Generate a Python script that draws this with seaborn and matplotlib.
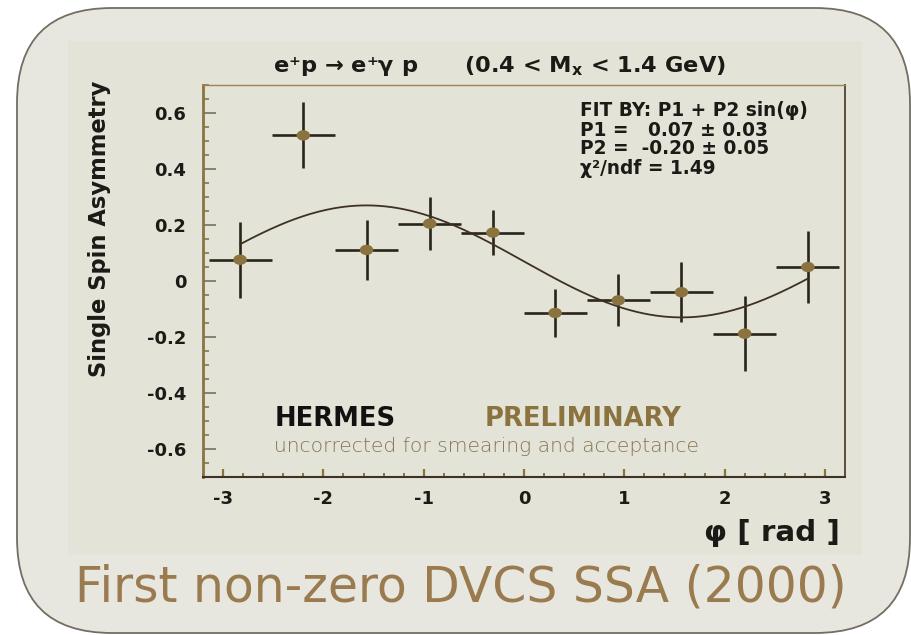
import numpy as np
import pandas as pd
import matplotlib
matplotlib.use("Agg")
import matplotlib.pyplot as plt
import seaborn as sns
from matplotlib.patches import FancyBboxPatch, Rectangle
from matplotlib.path import Path
from matplotlib.transforms import Affine2D
from matplotlib.ticker import FixedLocator, MultipleLocator

# ---- measured asymmetry in ten azimuthal bins ----
phi = [-2.83, -2.20, -1.57, -0.94, -0.31, 0.31, 0.94, 1.57, 2.20, 2.83]
ssa = [0.076, 0.520, 0.111, 0.205, 0.173, -0.114, -0.069, -0.040, -0.188, 0.050]
ssa_err = [0.135, 0.118, 0.107, 0.096, 0.080, 0.085, 0.093, 0.108, 0.133, 0.130]
bin_half_width = 0.314

# ---- fit result: P1 + P2 sin(phi) ----
p1, p1_err = 0.07, 0.03
p2, p2_err = -0.20, 0.05
chi2_ndf = 1.49

x_ticks = [-3, -2, -1, 0, 1, 2, 3]
x_tick_labels = ["-3", "-2", "-1", "0", "1", "2", "3"]
y_ticks = [-0.6, -0.4, -0.2, 0.0, 0.2, 0.4, 0.6]
y_tick_labels = ["-0.6", "-0.4", "-0.2", "0", "0.2", "0.4", "0.6"]

title_text = "e\u207ap \u2192 e\u207a\u03b3 p      (0.4 < $\\mathbf{M_{x}}$ < 1.4 GeV)"
fit_lines = [
    "FIT BY: P1 + P2 sin(\u03c6)",
    f"P1 =   {p1:.2f} \u00b1 {p1_err:.2f}",
    f"P2 =  {p2:.2f} \u00b1 {p2_err:.2f}",
    f"\u03c7\u00b2/ndf = {chi2_ndf:.2f}",
]
caption = "First non-zero DVCS SSA (2000)"

OLIVE = "#8b7340"
INK = "#1c1a16"

sns.set_theme(style="white")
plt.rcParams["font.family"] = ["DejaVu Sans"]
plt.rcParams["mathtext.fontset"] = "dejavusans"

W, H = 911, 635
fig = plt.figure(figsize=(W / 100, H / 100), dpi=100, facecolor="white")
px = Affine2D().scale(1 / W, 1 / H) + fig.transFigure


def top(y):
    return H - y


# slide panel with rounded corners and the inset picture area
fig.add_artist(FancyBboxPatch((17, top(633)), 893, 625,
                              boxstyle="round,pad=0,rounding_size=95",
                              transform=px, facecolor="#e8e7df",
                              edgecolor="#736d62", linewidth=1.3, zorder=0))
fig.add_artist(Rectangle((68, top(555)), 794, 514, transform=px,
                         facecolor="#e4e3d7", edgecolor="none", zorder=0.5))

ax = fig.add_axes([203 / W, (H - 477) / H, 642 / W, 392 / H])
ax.set_facecolor("#e4e3d7")
ax.set_zorder(1)

df = pd.DataFrame({"phi": phi, "ssa": ssa, "err": ssa_err})

ax.errorbar(df["phi"], df["ssa"], yerr=df["err"], xerr=bin_half_width,
            fmt="none", ecolor="#2a2419", elinewidth=1.9, capsize=0, zorder=2)

phi_fit = np.linspace(phi[0], phi[-1], 300)
sns.lineplot(x=phi_fit, y=p1 + p2 * np.sin(phi_fit), ax=ax,
             color="#3d3124", linewidth=1.3, zorder=3)

ellipse = Path.unit_circle().transformed(Affine2D().scale(1.3, 1.0))
sns.scatterplot(data=df, x="phi", y="ssa", ax=ax, marker=ellipse, s=95,
                color=OLIVE, edgecolor="none", linewidth=0, zorder=4)

ax.set_xlim(-3.2, 3.2)
ax.set_ylim(-0.7, 0.7)
ax.xaxis.set_major_locator(FixedLocator(x_ticks))
ax.set_xticklabels(x_tick_labels)
ax.yaxis.set_major_locator(FixedLocator(y_ticks))
ax.set_yticklabels(y_tick_labels)
ax.xaxis.set_minor_locator(MultipleLocator(0.2))
ax.yaxis.set_minor_locator(MultipleLocator(0.05))

ax.tick_params(which="both", direction="in", bottom=True, left=True,
               top=False, right=False)
ax.tick_params(axis="x", which="major", length=6, width=1.6, color=OLIVE,
               pad=9, labelsize=13)
ax.tick_params(axis="x", which="minor", length=3, width=1.4, color=OLIVE)
ax.tick_params(axis="y", which="major", length=9, width=1.2, color="#77705f",
               pad=12, labelsize=13)
ax.tick_params(axis="y", which="minor", length=4.5, width=1.2, color=OLIVE)
for lab in ax.get_xticklabels() + ax.get_yticklabels():
    lab.set_fontweight("bold")
    lab.set_color(INK)

for side, col, lw in [("left", OLIVE, 2.0), ("bottom", "#3b3326", 1.5),
                      ("top", "#9a8458", 1.0), ("right", "#5a4e3c", 1.4)]:
    ax.spines[side].set_visible(True)
    ax.spines[side].set_color(col)
    ax.spines[side].set_linewidth(lw)

ax.set_xlabel("\u03c6 [ rad ]", fontweight="bold", fontsize=16, color=INK)
ax.xaxis.set_label_coords((840 - 203) / 642, (477 - 533) / 392)
ax.xaxis.label.set_ha("right")
ax.xaxis.label.set_va("center")

ax.set_ylabel("Single Spin Asymmetry", fontweight="bold", fontsize=18, color=INK)
ax.yaxis.set_label_coords((100 - 203) / 642, (477 - 229) / 392)
ax.yaxis.label.set_ha("center")
ax.yaxis.label.set_va("center")

title = fig.text(499.5, top(66), title_text, transform=px, ha="center",
                 va="center", fontweight="bold", fontsize=13, color=INK)

fit_texts = [fig.text(580, top(111 + 19 * i), line, transform=px, ha="left",
                      va="center", fontweight="bold", fontsize=11, color=INK)
             for i, line in enumerate(fit_lines)]

hermes = fig.text(275, top(419), "HERMES", transform=px, ha="left",
                  va="center", fontweight="bold", fontsize=14, color="#111111")
prelim = fig.text(485, top(419), "PRELIMINARY", transform=px, ha="left",
                  va="center", fontweight="bold", fontsize=14, color=OLIVE)
uncorr = fig.text(274, top(446), "uncorrected for smearing and acceptance",
                  transform=px, ha="left", va="center", fontsize=12,
                  fontweight="light", color="#857456")
cap = fig.text(75, top(588), caption, transform=px, ha="left", va="center",
               fontsize=30, color="#9a7b4f")

# size the texts to their intended horizontal extents
renderer = fig.canvas.get_renderer()


def fit_width(text, target, scale=1.0, vertical=False):
    bb = text.get_window_extent(renderer)
    span = bb.height if vertical else bb.width
    text.set_fontsize(text.get_fontsize() * target / span * scale)


fit_width(title, 475, 0.95)
fit_width(fit_texts[0], 238, 0.95)
for t in fit_texts[1:]:
    t.set_fontsize(fit_texts[0].get_fontsize())
fit_width(hermes, 132, 0.92)
prelim.set_fontsize(hermes.get_fontsize())
fit_width(uncorr, 461, 0.92)
fit_width(ax.xaxis.label, 143, 0.95)
fit_width(ax.yaxis.label, 298, 1.0, vertical=True)
fit_width(cap, 772)

fig.savefig("out.png", dpi=100, facecolor="white")
